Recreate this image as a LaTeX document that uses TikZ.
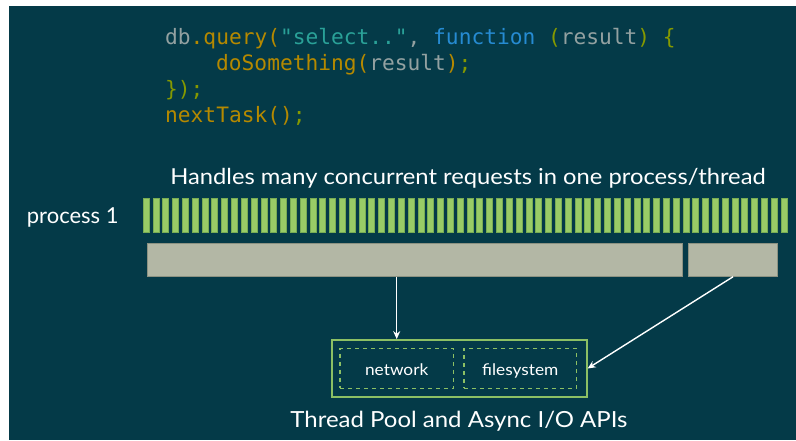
\documentclass[tikz,border=0pt]{standalone}
\usepackage{fontspec}
\setmainfont{Lato}
\newfontfamily\widesans[FakeStretch=1.08]{Lato}
\newfontfamily\codefont{DejaVu Sans Mono}
\usetikzlibrary{arrows.meta}
\definecolor{bgdark}{RGB}{4,58,72}
\definecolor{stripefill}{RGB}{153,204,102}
\definecolor{stripeedge}{RGB}{120,172,84}
\definecolor{boxgreen}{RGB}{140,192,100}
\definecolor{barfill}{RGB}{179,183,165}
\definecolor{baredge}{RGB}{140,146,130}
\definecolor{cbase}{RGB}{147,161,161}
\definecolor{cyel}{RGB}{181,137,0}
\definecolor{cgreen}{RGB}{133,153,0}
\definecolor{ccyan}{RGB}{42,161,152}
\definecolor{cblue}{RGB}{38,139,210}
\tikzset{
  codeline/.style={inner sep=0pt, anchor=base west, font=\codefont\fontsize{21.2}{26}\selectfont},
  label/.style={inner sep=0pt, text=white},
  bar/.style={fill=barfill, draw=baredge, line width=0.6pt, inner sep=0pt, anchor=south west},
  stripe/.style={fill=stripefill, draw=stripeedge, line width=0.5pt},
  pool/.style={draw=boxgreen, line width=1.8pt, inner sep=0pt},
  dbox/.style={draw=boxgreen, line width=1.6pt, dash pattern=on 4pt off 4pt, inner sep=0pt, text=white, text height=15pt, text depth=1.6pt, font=\widesans\fontsize{16}{19}\selectfont},
  arr/.style={draw=white, line width=1.4pt, -{Stealth[length=8pt,width=7pt]}}
}
\begin{document}
\begin{tikzpicture}[x=1pt,y=1pt]
\useasboundingbox (0,0) rectangle (796,440);
\fill[white] (0,0) rectangle (796,440);
\fill[bgdark] (9,0) rectangle (796,434);

% code
\node[codeline] (l1) at (165,395) {\color{cbase}db{\color{cyel}.query(}{\color{ccyan}"select.."}, {\color{cblue}function} {\color{cgreen}(}result{\color{cgreen})} {\color{cgreen}\{}};
\node[codeline] (l2) at (216,369) {\color{cbase}{\color{cyel}doSomething(}result{\color{cyel})}{\color{cgreen};}};
\node[codeline] (l3) at (165,343) {{\color{cgreen}\});}};
\node[codeline] (l4) at (165,317) {{\color{cyel}nextTask()}{\color{cgreen};}};

% headline
\node[label, anchor=base, font=\widesans\fontsize{22}{26}\selectfont] (head) at (468,255) {Handles many concurrent requests in one process/thread};
\node[label, anchor=base west, font=\fontsize{22}{26}\selectfont] (proc) at (26.7,216.7) {process 1};

% stripes
\foreach \i in {0,...,65} \fill[stripe] ({143+\i*9.815},208) rectangle ++(6,34);

% bars
\node[bar, minimum width=535pt, minimum height=33.4pt] (main) at (147.3,163.3) {};
\node[bar, minimum width=89pt, minimum height=33.4pt] (cb) at (688.3,163.3) {};

% pool
\node[pool, minimum width=254.4pt, minimum height=57pt] (pool) at (459.5,71.5) {};
\node[dbox, minimum width=113.3pt, minimum height=40pt] (net) at (396.7,71.7) {network};
\node[dbox, minimum width=112.7pt, minimum height=40pt] (fs) at (520.3,71.7) {filesystem};

\node[label, anchor=base, font=\widesans\fontsize{22.2}{27}\selectfont] (tp) at (459,13) {Thread Pool and Async I/O APIs};

% arrows
\draw[arr] (net.north |- main.south) -- (net.north |- pool.north);
\draw[arr] (cb.south) -- (pool.east);
\end{tikzpicture}
\end{document}
